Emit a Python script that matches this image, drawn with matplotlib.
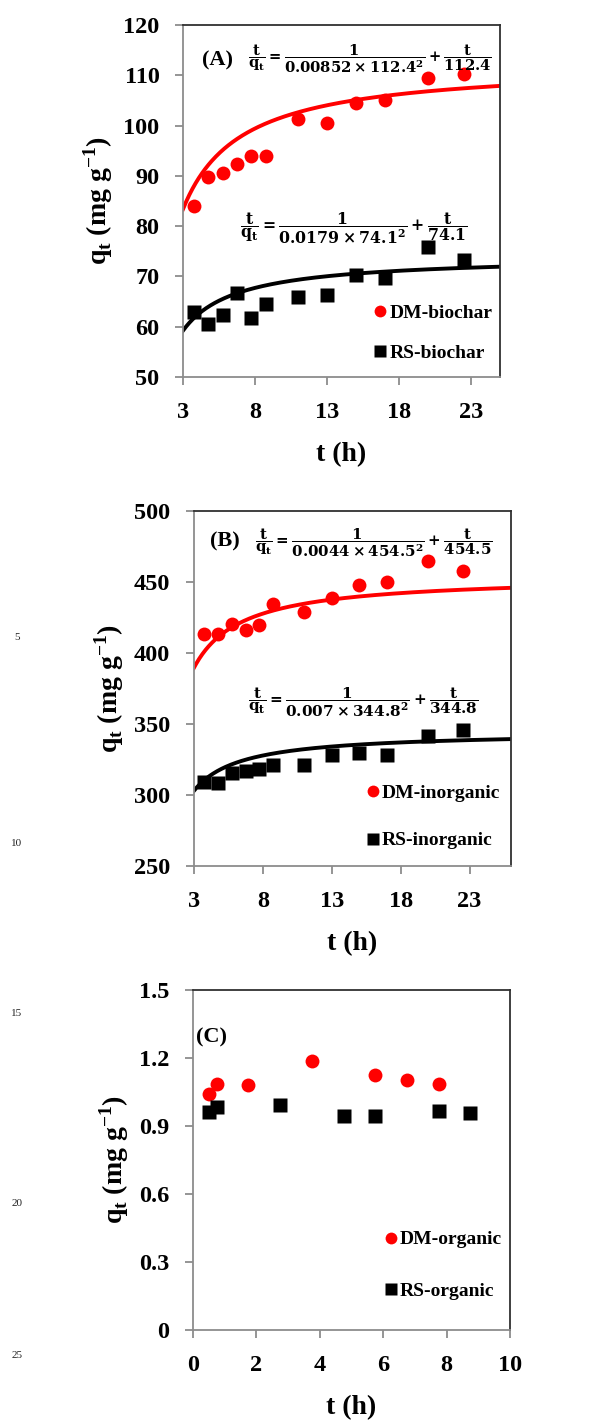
import numpy as np
import matplotlib.pyplot as plt

####################################################################################################

plt.rcParams['font.family'] = ['Liberation Serif', 'DejaVu Serif']
plt.rcParams['font.weight'] = 'bold'
plt.rcParams['mathtext.fontset'] = 'dejavuserif'

####################################################################################################
# data

# (A) biochar
t_a = [3.75, 4.75, 5.75, 6.75, 7.75, 8.75, 11, 13, 15, 17, 20, 22.5]
dm_biochar = [84.0, 89.8, 90.5, 92.3, 94.0, 94.0, 101.3, 100.6, 104.5, 105.1, 109.5, 110.2]
rs_biochar = [62.9, 60.6, 62.4, 66.8, 61.8, 64.5, 65.9, 66.4, 70.2, 69.7, 75.9, 73.2]

# (B) inorganic
t_b = [3.75, 4.75, 5.75, 6.75, 7.75, 8.75, 11, 13, 15, 17, 20, 22.5]
dm_inorganic = [413.3, 413.3, 420.3, 416.1, 420.1, 434.4, 428.6, 439.1, 447.8, 449.7, 465.0, 457.9]
rs_inorganic = [309.2, 308.5, 315.6, 316.7, 318.6, 321.4, 321.0, 328.5, 329.9, 328.5, 341.6, 346.1]

# (C) organic
t_c_dm = [0.5, 0.75, 1.75, 3.75, 5.75, 6.75, 7.75]
dm_organic = [1.040, 1.085, 1.081, 1.188, 1.125, 1.103, 1.085]
t_c_rs = [0.5, 0.75, 2.75, 4.75, 5.75, 7.75, 8.75]
rs_organic = [0.960, 0.985, 0.993, 0.946, 0.944, 0.968, 0.959]

# pseudo-second-order parameters shown in the equations (k, qe)
psec_dm_biochar = (0.00852, 112.4)
psec_rs_biochar = (0.0179, 74.1)
psec_dm_inorganic = (0.0044, 454.5)
psec_rs_inorganic = (0.007, 344.8)

####################################################################################################

def pso(t, k, qe):
    return k * qe**2 * t / (1 + k * qe * t)

def equation(k, qe):
    return (r'$\mathbf{\dfrac{t}{q_t}=\dfrac{1}{%s\times %s^2}+\dfrac{t}{%s}}$'
            % (k, qe, qe))

def style_axes(ax):
    for side in ('left', 'bottom'):
        ax.spines[side].set_color('#8c8c8c')
        ax.spines[side].set_linewidth(1.3)
    for side in ('top', 'right'):
        ax.spines[side].set_color('#303030')
        ax.spines[side].set_linewidth(1.3)
    ax.tick_params(direction='out', length=6, width=1.3, color='#8c8c8c',
                   labelsize=17.5)
    ax.tick_params(axis='x', pad=12)
    ax.tick_params(axis='y', pad=11)
    for label in ax.get_xticklabels() + ax.get_yticklabels():
        label.set_fontweight('bold')
    ax.set_xlabel('t (h)', fontsize=20, fontweight='bold', labelpad=14)
    ax.set_ylabel(r'q$_\mathregular{t}$ (mg g$^\mathregular{-1}$)',
                  fontsize=20, fontweight='bold', labelpad=6)

def add_legend(ax, anchor, spacing):
    ax.legend(loc='lower right', bbox_to_anchor=anchor, frameon=False,
              handlelength=0.6, handletextpad=0.15, markerscale=0.85,
              labelspacing=spacing, borderaxespad=0,
              prop={'weight': 'bold', 'size': 14})

####################################################################################################

fig = plt.figure(figsize=(6.06, 14.22), dpi=100)

# (A)
ax_a = fig.add_axes([0.302, 0.7349, 0.523, 0.2475])
tt = np.linspace(3, 25, 300)
ax_a.plot(tt, pso(tt, *psec_dm_biochar), color='#ff0000', lw=2.8, zorder=2)
ax_a.plot(tt, pso(tt, *psec_rs_biochar), color='black', lw=2.8, zorder=2)
ax_a.plot(t_a, dm_biochar, 'o', color='#ff0000', ms=10, mec='none', label='DM-biochar', zorder=3)
ax_a.plot(t_a, rs_biochar, 's', color='black', ms=9.5, mec='none', label='RS-biochar', zorder=3)
ax_a.set_xlim(3, 25)
ax_a.set_ylim(50, 120)
ax_a.set_xticks([3, 8, 13, 18, 23])
ax_a.set_yticks(range(50, 121, 10))
style_axes(ax_a)
add_legend(ax_a, (1.0, 0.02), 1.15)
ax_a.text(0.06, 0.90, '(A)', transform=ax_a.transAxes, fontsize=16, fontweight='bold',
          va='center', ha='left')
ax_a.text(0.205, 0.905, equation(*psec_dm_biochar), transform=ax_a.transAxes,
          fontsize=10.6, va='center', ha='left')
ax_a.text(0.18, 0.422, equation(*psec_rs_biochar), transform=ax_a.transAxes,
          fontsize=11.3, va='center', ha='left')

# (B)
ax_b = fig.add_axes([0.320, 0.391, 0.523, 0.2496])
tt = np.linspace(3, 26, 300)
ax_b.plot(tt, pso(tt, *psec_dm_inorganic), color='#ff0000', lw=2.8, zorder=2)
ax_b.plot(tt, pso(tt, *psec_rs_inorganic), color='black', lw=2.8, zorder=2)
ax_b.plot(t_b, dm_inorganic, 'o', color='#ff0000', ms=10, mec='none', label='DM-inorganic', zorder=3)
ax_b.plot(t_b, rs_inorganic, 's', color='black', ms=9.5, mec='none', label='RS-inorganic', zorder=3)
ax_b.set_xlim(3, 26)
ax_b.set_ylim(250, 500)
ax_b.set_xticks([3, 8, 13, 18, 23])
ax_b.set_yticks(range(250, 501, 50))
style_axes(ax_b)
add_legend(ax_b, (0.99, 0.025), 1.55)
ax_b.text(0.05, 0.915, '(B)', transform=ax_b.transAxes, fontsize=16, fontweight='bold',
          va='center', ha='left')
ax_b.text(0.192, 0.912, equation(*psec_dm_inorganic), transform=ax_b.transAxes,
          fontsize=10.8, va='center', ha='left')
ax_b.text(0.17, 0.462, equation(*psec_rs_inorganic), transform=ax_b.transAxes,
          fontsize=11, va='center', ha='left')

# (C)
ax_c = fig.add_axes([0.3185, 0.0647, 0.523, 0.2391])
ax_c.plot(t_c_dm, dm_organic, 'o', color='#ff0000', ms=10, mec='none', label='DM-organic', zorder=3)
ax_c.plot(t_c_rs, rs_organic, 's', color='black', ms=9.5, mec='none', label='RS-organic', zorder=3)
ax_c.set_xlim(0, 10)
ax_c.set_ylim(0, 1.5)
ax_c.set_xticks(range(0, 11, 2))
ax_c.set_yticks([0, 0.3, 0.6, 0.9, 1.2, 1.5])
ax_c.set_yticklabels(['0', '0.3', '0.6', '0.9', '1.2', '1.5'])
style_axes(ax_c)
add_legend(ax_c, (1.0, 0.065), 1.75)
ax_c.text(0.01, 0.86, '(C)', transform=ax_c.transAxes, fontsize=16, fontweight='bold',
          va='center', ha='left')

# manuscript line numbers
for num, ypix in [(5, 638), (10, 843), (15, 1013), (20, 1203), (25, 1356)]:
    fig.text(17 / 606, 1 - ypix / 1422, str(num), fontsize=8, fontweight='normal',
             ha='center', va='center', color='#222222')

fig.savefig('out.png', dpi=100)
